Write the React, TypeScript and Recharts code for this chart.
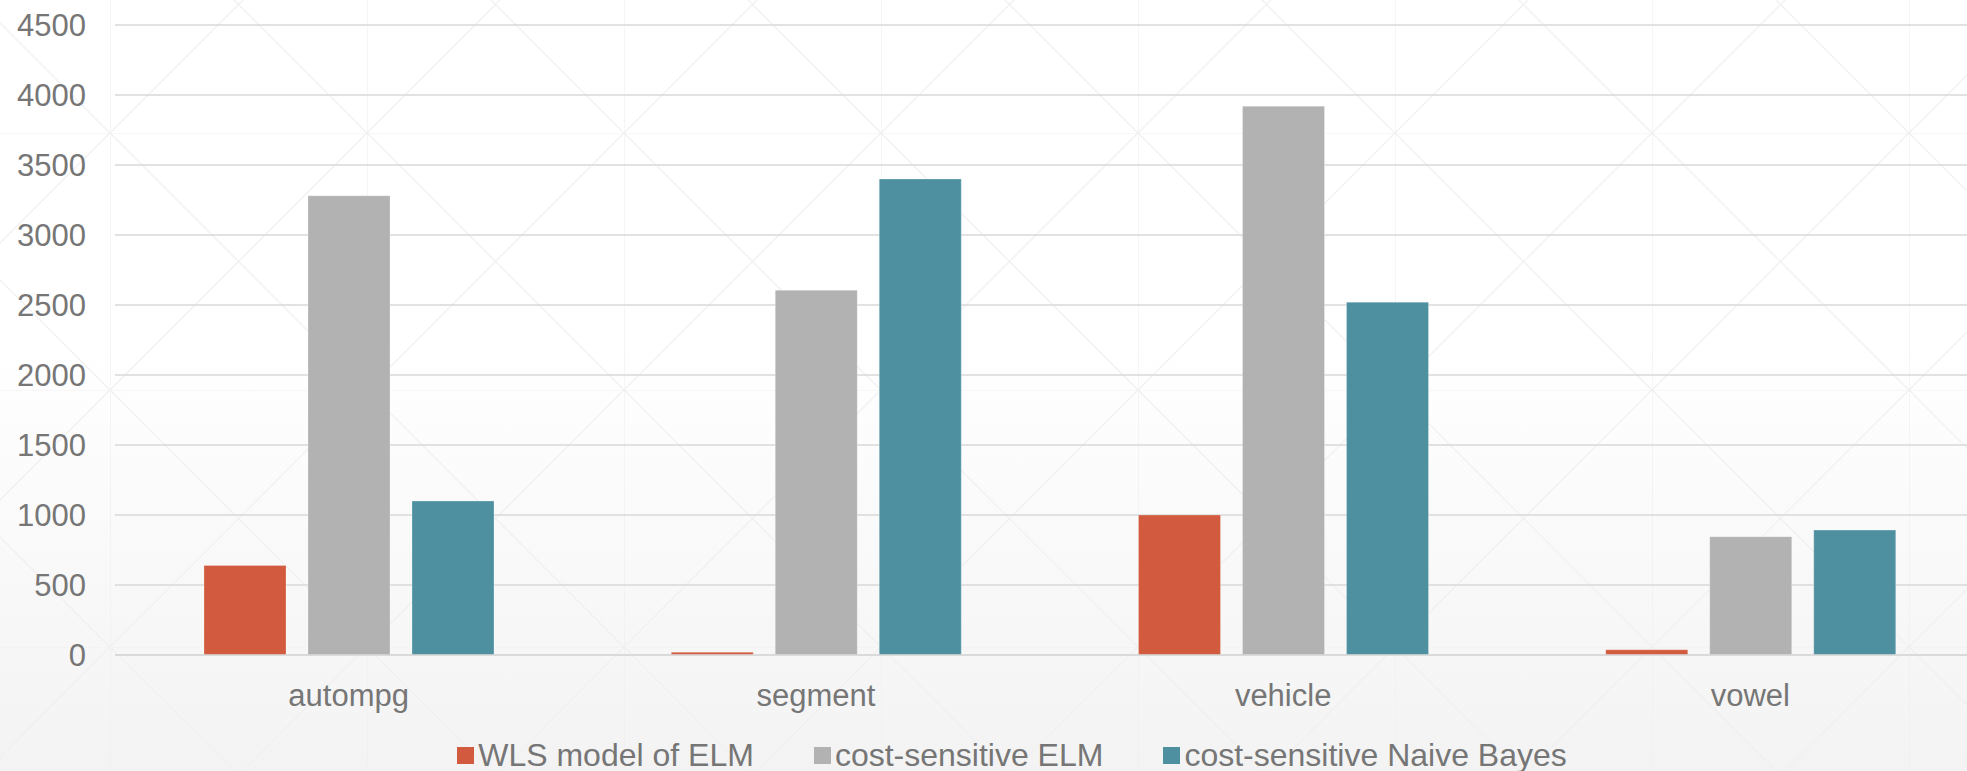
import { BarChart, Bar, XAxis, YAxis, CartesianGrid, Legend } from 'recharts';

const categories = ['autompg', 'segment', 'vehicle', 'vowel'];
const wlsElm = [640, 20, 1000, 37];
const costSensitiveElm = [3280, 2605, 3920, 845];
const costSensitiveNaiveBayes = [1100, 3400, 2520, 892];
const yTicks = [0, 500, 1000, 1500, 2000, 2500, 3000, 3500, 4000, 4500];

const seriesNames = ['WLS model of ELM', 'cost-sensitive ELM', 'cost-sensitive Naive Bayes'];
const seriesColors = ['#D25A3E', '#B2B2B2', '#4F90A0'];

const data = categories.map((name, i) => ({
  name,
  wls: wlsElm[i],
  elm: costSensitiveElm[i],
  nb: costSensitiveNaiveBayes[i],
}));

const W = 1967;
const H = 771;
// plot area runs a little past the right edge of the picture
const CHART_W = W + 17;
const FONT = '"Liberation Sans", Arial, sans-serif';
const TEXT = '#767676';

function Backdrop() {
  return (
    <svg width={W} height={H} style={{ position: 'absolute', left: 0, top: 0 }}>
      <defs>
        <linearGradient id="bgfade" x1="0" y1="0" x2="0" y2="1">
          <stop offset="0%" stopColor="#ffffff" />
          <stop offset="45%" stopColor="#ffffff" />
          <stop offset="100%" stopColor="#f3f3f3" />
        </linearGradient>
        <pattern id="diamonds" patternUnits="userSpaceOnUse" x={110} y={133} width={257} height={257}>
          <line x1={0} y1={0} x2={0} y2={257} stroke="#efefef" strokeWidth={1.2} />
          <line x1={0} y1={0} x2={257} y2={0} stroke="#efefef" strokeWidth={1.2} />
          <line x1={0} y1={0} x2={257} y2={257} stroke="#efefef" strokeWidth={1.2} />
          <line x1={257} y1={0} x2={0} y2={257} stroke="#efefef" strokeWidth={1.2} />
        </pattern>
      </defs>
      <rect x={0} y={0} width={W} height={H} fill="url(#bgfade)" />
      <rect x={0} y={0} width={W} height={H} fill="url(#diamonds)" />
    </svg>
  );
}

function LegendBox() {
  return (
    <div
      style={{
        width: W,
        height: 40,
        display: 'flex',
        alignItems: 'center',
        justifyContent: 'center',
        paddingLeft: 57,
        paddingTop: 8,
        gap: 60,
        fontFamily: FONT,
        fontSize: 32,
        color: TEXT,
        boxSizing: 'border-box',
      }}
    >
      {seriesNames.map((n, i) => (
        <div key={n} style={{ display: 'flex', alignItems: 'center', whiteSpace: 'nowrap' }}>
          <span style={{ width: 17, height: 17, background: seriesColors[i], marginRight: 4, display: 'inline-block' }} />
          <span>{n}</span>
        </div>
      ))}
    </div>
  );
}

export default function App() {
  const tickStyle = { fill: TEXT, fontSize: 31, fontFamily: FONT };
  return (
    <div style={{ position: 'absolute', left: 0, top: 0, width: W, height: H, background: '#fff', overflow: 'hidden' }}>
      <Backdrop />
      <div style={{ position: 'absolute', left: 0, top: 0 }}>
        <BarChart width={CHART_W} height={H} data={data} margin={{ top: 25, right: 0, bottom: 0, left: 0 }} barGap={22} barSize={82}>
          <CartesianGrid vertical={false} stroke="#d9d9d9" strokeWidth={1.6} />
          <XAxis
            dataKey="name"
            height={76}
            axisLine={{ stroke: '#d9d9d9', strokeWidth: 1.6 }}
            tickLine={false}
            tickSize={0}
            tickMargin={29}
            tick={tickStyle}
          />
          <YAxis
            width={115}
            domain={[0, 4500]}
            ticks={yTicks}
            axisLine={false}
            tickLine={false}
            tickSize={0}
            tickMargin={29}
            tick={tickStyle}
          />
          <Legend verticalAlign="bottom" content={() => <LegendBox />} wrapperStyle={{ bottom: 0, left: 0, width: W }} />
          <Bar dataKey="wls" name={seriesNames[0]} fill={seriesColors[0]} stroke="rgba(255,255,255,0.25)" isAnimationActive={false} />
          <Bar dataKey="elm" name={seriesNames[1]} fill={seriesColors[1]} stroke="rgba(255,255,255,0.25)" isAnimationActive={false} />
          <Bar dataKey="nb" name={seriesNames[2]} fill={seriesColors[2]} stroke="rgba(255,255,255,0.25)" isAnimationActive={false} />
        </BarChart>
      </div>
    </div>
  );
}
